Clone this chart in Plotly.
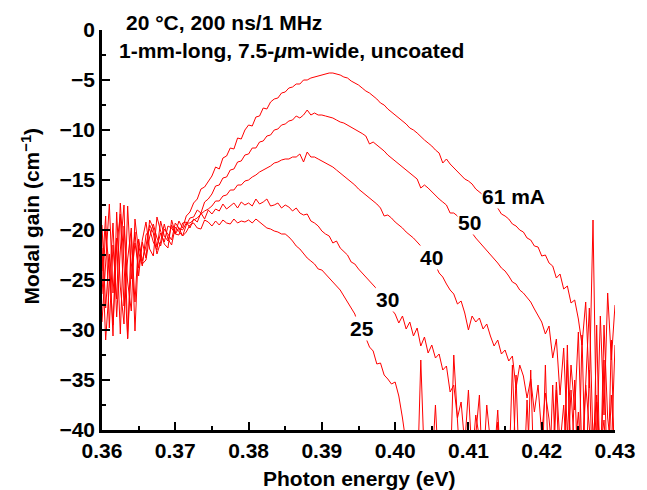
import numpy as np
import plotly.graph_objects as go

# Photon energy grid (eV): 0.3600 ... 0.4300 in 0.0005 steps
E_START, E_STEP, N_PTS = 0.36, 0.0005, 141
energy = np.round(E_START + E_STEP * np.arange(N_PTS), 4)

gain_61mA = [
    -19.5, -27.8, -22.4, -30.6, -18.2, -25.7, -29.4, -17.6, -24.9, -21.3,
    -23.8, -21.0, -19.2, -21.9, -22.6, -18.7, -20.1, -21.4, -21.8, -19.0,
    -20.3, -19.1, -19.8, -18.6, -18.2, -17.3, -16.9, -15.9, -15.7, -15.2,
    -14.6, -13.7, -13.9, -12.8, -12.6, -11.8, -11.9, -10.8, -10.9, -10.0,
    -9.5, -9.6, -8.7, -8.6, -7.8, -7.9, -7.2, -6.9, -6.8, -6.3,
    -6.2, -5.8, -5.7, -5.4, -5.4, -5.0, -5.0, -4.8, -4.7, -4.6,
    -4.5, -4.4, -4.3, -4.3, -4.4, -4.5, -4.7, -4.8, -5.1, -5.3,
    -5.5, -5.8, -6.1, -6.3, -6.6, -6.9, -7.3, -7.5, -7.9, -8.2,
    -8.5, -8.8, -9.1, -9.4, -9.8, -10.0, -10.3, -10.7, -11.0, -11.3,
    -11.6, -12.0, -12.3, -13.3, -12.9, -13.4, -13.8, -14.1, -14.5, -14.9,
    -15.1, -15.4, -15.9, -16.2, -16.5, -16.8, -17.3, -17.6, -17.8, -18.4,
    -18.6, -18.9, -19.4, -19.6, -20.0, -20.2, -20.8, -21.0, -21.6, -21.7,
    -22.6, -22.5, -23.3, -23.6, -24.8, -24.4, -25.9, -25.6, -27.3, -27.0,
    -28.9, -31.5, -27.2, -35.8, -19.0, -42.0, -28.6, -38.5, -26.3, -33.0, -27.5,
]

gain_50mA = [
    -24.1, -18.6, -29.8, -21.5, -26.9, -17.3, -23.4, -30.9, -20.5, -27.2,
    -20.9, -23.1, -21.6, -19.5, -20.3, -22.4, -21.2, -19.4, -20.9, -21.5,
    -19.7, -20.1, -20.6, -19.5, -18.8, -18.7, -18.0, -18.3, -17.2, -16.9,
    -16.4, -15.6, -15.5, -14.8, -14.7, -14.0, -13.9, -13.2, -13.1, -12.5,
    -12.4, -11.8, -11.8, -11.2, -11.1, -10.6, -10.5, -10.0, -9.9, -9.5,
    -9.4, -9.1, -9.0, -8.6, -8.8, -8.5, -8.0, -8.5, -8.3, -8.5,
    -8.5, -8.6, -8.7, -8.8, -9.0, -9.2, -9.3, -9.5, -9.7, -9.9,
    -10.1, -10.35, -10.6, -11.4, -11.2, -11.5, -11.8, -12.1, -12.5, -12.8,
    -13.1, -13.4, -13.7, -14.0, -14.3, -14.6, -14.9, -15.8, -15.5, -15.8,
    -16.2, -16.5, -16.9, -17.2, -17.5, -18.3, -18.3, -18.6, -19.0, -19.4,
    -19.8, -20.3, -20.8, -21.2, -21.6, -22.0, -22.4, -22.9, -23.3, -23.8,
    -24.1, -24.6, -25.2, -25.4, -26.0, -26.3, -26.7, -27.2, -27.9, -28.6,
    -29.2, -30.4, -29.6, -32.8, -30.9, -36.5, -31.8, -40.5, -33.5, -38.0,
    -30.2, -43.0, -34.6, -27.8, -41.0, -36.5, -45.0, -29.5, -38.8, -42.0, -31.5,
]

gain_40mA = [
    -29.2, -22.7, -17.4, -26.3, -20.8, -30.4, -19.6, -25.2, -28.1, -18.9,
    -22.2, -23.6, -20.5, -19.9, -21.2, -22.0, -19.1, -20.6, -21.1, -19.5,
    -20.4, -19.8, -20.0, -19.3, -19.3, -19.0, -18.8, -18.4, -18.1, -17.9,
    -17.6, -17.1, -17.1, -16.6, -16.5, -16.0, -16.0, -15.5, -15.5, -15.1,
    -15.0, -14.7, -14.5, -14.2, -14.0, -13.8, -13.6, -13.3, -13.2, -13.0,
    -12.9, -12.9, -12.7, -12.7, -12.4, -13.2, -12.2, -12.7, -12.7, -12.9,
    -13.1, -13.3, -13.5, -13.7, -14.0, -14.3, -14.6, -14.9, -15.2, -15.5,
    -15.9, -16.2, -16.5, -16.8, -17.1, -17.4, -17.8, -18.6, -18.5, -18.8,
    -19.2, -19.5, -19.8, -20.2, -20.5, -20.8, -21.2, -21.6, -22.0, -22.4,
    -23.0, -23.5, -24.3, -24.7, -25.4, -26.0, -26.4, -27.4, -27.1, -28.3,
    -30.0, -28.6, -29.2, -28.8, -29.9, -29.4, -30.6, -31.6, -31.0, -32.4,
    -32.0, -33.1, -32.6, -35.8, -33.5, -34.6, -36.8, -34.9, -38.2, -35.5,
    -40.5, -36.3, -38.9, -43.0, -35.2, -41.5, -37.5, -44.0, -36.0, -42.5,
    -38.2, -45.0, -35.5, -40.8, -44.0, -37.2, -42.0, -39.0, -45.0, -36.5, -43.0,
]

gain_30mA = [
    -21.8, -31.0, -25.5, -19.3, -28.7, -22.0, -17.5, -30.8, -23.7, -20.2,
    -24.6, -21.2, -22.8, -19.0, -19.8, -21.7, -20.3, -21.2, -19.6, -19.8,
    -20.4, -20.5, -19.3, -19.2, -19.8, -18.9, -19.2, -18.3, -18.9, -18.0,
    -18.4, -17.9, -18.1, -17.4, -17.9, -17.6, -17.3, -17.8, -17.2, -17.5,
    -17.3, -17.6, -16.9, -17.4, -17.2, -16.9, -17.6, -17.5, -17.3, -17.8,
    -17.5, -17.7, -18.1, -17.8, -18.3, -18.5, -18.4, -19.1, -19.3, -19.6,
    -20.1, -20.4, -20.6, -21.3, -21.1, -21.8, -22.2, -22.5, -23.2, -23.4,
    -23.9, -24.3, -24.8, -25.1, -25.5, -25.9, -26.6, -26.8, -27.5, -27.9,
    -28.4, -29.3, -28.6, -29.9, -29.2, -30.6, -29.8, -31.6, -30.7, -32.3,
    -31.5, -32.8, -32.4, -34.0, -33.6, -36.2, -35.5, -38.8, -37.2, -41.5,
    -36.0, -43.0, -38.5, -40.8, -44.0, -37.5, -42.0, -45.0, -39.2, -44.0,
    -41.0, -45.0, -33.5, -44.0, -46.0, -42.0, -45.0, -34.0, -46.0, -44.0,
    -45.0, -43.0, -46.0, -35.5, -45.0, -46.0, -44.0, -33.0, -42.5, -46.0,
    -45.0, -46.0, -44.0, -46.0, -45.0, -46.0, -43.0, -46.0, -45.0, -46.0, -46.0,
]

gain_25mA = [
    -26.4, -20.1, -23.9, -29.5, -21.7, -18.4, -27.6, -22.9, -19.8, -30.1,
    -21.5, -23.4, -23.0, -20.7, -19.4, -20.8, -21.6, -19.9, -20.4, -21.0,
    -19.3, -19.8, -20.6, -20.2, -19.5, -19.3, -19.8, -19.9, -19.0, -19.2,
    -19.6, -19.1, -19.5, -19.0, -19.3, -19.4, -18.9, -19.3, -19.1, -19.2,
    -19.0, -19.3, -18.9, -19.2, -19.5, -19.8, -19.9, -20.1, -20.2, -20.4,
    -20.4, -20.7, -21.1, -21.6, -21.9, -22.4, -22.8, -23.1, -23.4, -23.9,
    -24.0, -24.4, -24.8, -25.1, -25.5, -26.0, -26.6, -27.2, -27.8, -28.4,
    -29.6, -30.3, -30.8, -31.7, -32.1, -33.4, -33.3, -34.5, -34.9, -35.4,
    -35.2, -36.6, -38.8, -42.0, -44.0, -41.5, -46.0, -33.0, -43.5, -46.0,
    -44.0, -37.5, -45.0, -46.0, -41.0, -45.0, -32.5, -39.0, -45.0, -46.0,
    -44.0, -46.0, -40.5, -36.5, -46.0, -45.0, -46.0, -43.0, -38.0, -45.0,
    -46.0, -46.0, -46.0, -34.5, -46.0, -46.0, -37.0, -46.0, -46.0, -46.0,
    -46.0, -33.5, -46.0, -46.0, -36.0, -46.0, -46.0, -31.5, -46.0, -35.0,
    -46.0, -30.5, -46.0, -34.0, -46.0, -29.5, -46.0, -33.0, -46.0, -31.0, -46.0,
]

series = [("25", gain_25mA), ("30", gain_30mA), ("40", gain_40mA),
          ("50", gain_50mA), ("61 mA", gain_61mA)]

# curve label text and anchor (energy, gain)
curve_labels = ["61 mA", "50", "40", "30", "25"]
label_energy = [0.4161, 0.4101, 0.4050, 0.3989, 0.3955]
label_gain = [-16.6, -19.2, -22.7, -26.9, -29.8]

title_lines = ["20 °C, 200 ns/1 MHz", "1-mm-long, 7.5-<i>μ</i>m-wide, uncoated"]

FONT = "Liberation Sans, Arial, sans-serif"
bold = dict(family=FONT, size=21, color="black", weight="bold")

fig = go.Figure()
for name, vals in series:
    fig.add_trace(go.Scatter(x=energy, y=vals, mode="lines", name=name,
                             line=dict(color="#ff0000", width=1)))

annotations = []
for t, xe, yg in zip(curve_labels, label_energy, label_gain):
    annotations.append(dict(x=xe, y=yg, xref="x", yref="y", text=t,
                            showarrow=False, font=bold, bgcolor="white",
                            borderpad=0, xanchor="center", yanchor="middle"))
annotations.append(dict(x=(124 - 102) / 517, y=(430 - 23) / 400, xref="paper", yref="paper",
                        text=title_lines[0], showarrow=False, font=bold,
                        xanchor="left", yanchor="middle"))
annotations.append(dict(x=(117 - 102) / 517, y=(430 - 50) / 400, xref="paper", yref="paper",
                        text=title_lines[1], showarrow=False, font=bold,
                        xanchor="left", yanchor="middle"))
annotations.append(dict(x=(362 - 102) / 517, y=(430 - 478) / 400, xref="paper", yref="paper",
                        text="Photon energy (eV)", showarrow=False, font=bold,
                        xanchor="center", yanchor="middle"))
annotations.append(dict(x=(30 - 102) / 517, y=(430 - 216) / 400, xref="paper", yref="paper",
                        text="Modal gain (cm<sup>−1</sup>)", showarrow=False, font=bold,
                        textangle=-90, xanchor="center", yanchor="middle"))

axis_common = dict(showline=True, linecolor="black", linewidth=2.5, ticks="inside",
                   ticklen=8, tickwidth=2, tickcolor="black", showgrid=False,
                   zeroline=False, tickfont=bold, mirror=False)

fig.update_layout(
    width=647, height=490,
    margin=dict(l=102, r=28, t=30, b=60),
    plot_bgcolor="white", paper_bgcolor="white",
    showlegend=False,
    annotations=annotations,
    xaxis=dict(range=[0.36, 0.43], tick0=0.36, dtick=0.01, tickformat=".2f",
               minor=dict(ticks="inside", ticklen=4, tickwidth=2, tickcolor="black", dtick=0.005),
               **axis_common),
    yaxis=dict(range=[-40, 0], tick0=0, dtick=5,
               minor=dict(ticks="inside", ticklen=4, tickwidth=2, tickcolor="black", dtick=2.5),
               **axis_common),
)

fig.write_html("out.html", config={"displayModeBar": False},
               post_script="document.body.style.margin='0';")
